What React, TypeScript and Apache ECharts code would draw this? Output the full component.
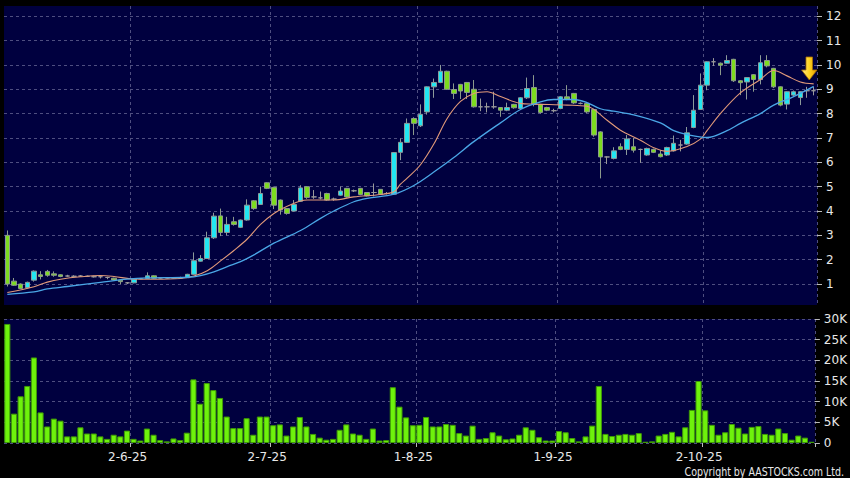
import React, { useEffect, useRef } from "react";
import * as echarts from "echarts";

// Trading days (day numbers) per month, 2025
const mayDays = [6, 7, 8, 9, 12, 13, 14, 15, 16, 19, 20, 21, 22, 23, 26, 27, 28, 29, 30];
const junDays = [2, 3, 4, 5, 6, 9, 10, 11, 12, 13, 16, 17, 18, 19, 20, 23, 24, 25, 26, 27, 30];
const julDays = [2, 3, 4, 7, 8, 9, 10, 11, 14, 15, 16, 17, 18, 21, 22, 23, 24, 25, 28, 29, 30, 31];
const augDays = [1, 4, 5, 6, 7, 8, 11, 12, 13, 14, 15, 18, 19, 20, 21, 22, 25, 26, 27, 28, 29];
const sepDays = [1, 2, 3, 4, 5, 8, 9, 10, 11, 12, 15, 16, 17, 18, 19, 22, 23, 24, 25, 26, 29, 30];
const octDays = [2, 3, 6, 8, 9, 10, 13, 14, 15, 16, 17, 20, 21, 22, 23, 24, 27];

const opens = [
  3.0, 1.12, 1.0, 0.85, 1.16, 1.38, 1.52, 1.42, 1.38, 1.33,
  1.32, 1.33, 1.32, 1.3, 1.3, 1.27, 1.24, 1.16, 1.05, 1.05,
  1.22, 1.23, 1.34, 1.25, 1.25, 1.25, 1.25, 1.26, 1.4, 1.94,
  2.05, 2.9, 3.8, 3.12, 3.56, 3.33, 3.63, 4.42, 4.27, 5.16,
  4.97, 4.45, 4.1, 4.0, 4.4, 5.0, 4.58, 4.54, 4.72, 4.49,
  4.65, 4.93, 4.83, 4.93, 4.76, 4.76, 4.89, 4.72, 4.69, 6.41,
  6.82, 7.8, 7.5, 8.07, 9.1, 9.28, 9.74, 8.99, 9.2, 9.28,
  9.0, 8.28, 8.28, 8.28, 8.25, 8.14, 8.38, 8.21, 8.65, 9.07,
  8.38, 8.25, 8.12, 8.21, 8.69, 8.83, 8.42, 8.42, 8.17, 7.25,
  6.22, 6.16, 6.64, 6.53, 6.64, 6.53, 6.3, 6.53, 6.34, 6.3,
  6.47, 6.71, 6.75, 7.43, 8.17, 9.17, 10.13, 10.07, 10.07, 10.23,
  9.35, 9.3, 9.6, 9.4, 10.18, 9.86, 9.1, 8.39, 8.76, 8.66,
  8.94, 8.94,
];
const closes = [
  1.0, 0.95, 0.82, 1.07, 1.53, 1.31, 1.36, 1.36, 1.31, 1.33,
  1.32, 1.33, 1.32, 1.3, 1.3, 1.27, 1.17, 1.1, 1.05, 1.2,
  1.22, 1.34, 1.24, 1.25, 1.25, 1.25, 1.25, 1.4, 1.96, 2.05,
  2.9, 3.79, 3.12, 3.45, 3.45, 3.63, 4.24, 4.1, 4.72, 4.93,
  4.24, 4.04, 3.9, 4.27, 4.95, 4.56, 4.58, 4.54, 4.45, 4.49,
  4.82, 4.58, 4.83, 4.68, 4.62, 4.76, 4.69, 4.72, 6.4, 6.82,
  7.6, 7.6, 7.97, 9.1, 9.28, 9.74, 9.0, 8.83, 8.93, 8.87,
  8.28, 8.28, 8.28, 8.28, 8.14, 8.25, 8.24, 8.65, 9.03, 8.38,
  8.05, 8.14, 8.12, 8.69, 8.6, 8.44, 8.42, 8.07, 7.12, 6.22,
  6.22, 6.47, 6.53, 6.96, 6.5, 6.53, 6.57, 6.41, 6.23, 6.61,
  6.78, 6.71, 7.21, 8.14, 9.17, 10.13, 10.13, 9.99, 10.18, 9.35,
  9.27, 9.48, 9.4, 10.09, 9.96, 9.1, 8.35, 8.9, 8.9, 8.9,
  8.94, 8.94,
];
const lows = [
  0.9, 0.92, 0.8, 0.82, 1.1, 1.19, 1.3, 1.3, 1.28, 1.3,
  1.29, 1.3, 1.29, 1.27, 1.23, 1.2, 1.15, 1.0, 1.0, 1.03,
  1.2, 1.22, 1.22, 1.23, 1.23, 1.23, 1.23, 1.25, 1.38, 1.92,
  2.03, 2.85, 2.97, 3.0, 3.4, 3.3, 3.6, 4.05, 4.25, 4.9,
  4.08, 3.85, 3.85, 3.98, 4.38, 4.5, 4.5, 4.48, 4.42, 4.42,
  4.62, 4.55, 4.78, 4.65, 4.6, 4.6, 4.66, 4.68, 4.66, 6.09,
  6.8, 7.12, 7.45, 7.96, 8.65, 9.25, 8.98, 8.6, 8.6, 8.6,
  8.25, 8.1, 8.05, 8.2, 7.87, 8.1, 8.2, 8.18, 8.6, 8.3,
  8.0, 8.1, 8.05, 8.18, 8.55, 8.4, 8.38, 8.02, 7.05, 5.34,
  5.93, 6.12, 6.5, 6.3, 6.4, 5.98, 6.27, 6.38, 6.2, 6.26,
  6.44, 6.45, 6.72, 7.4, 8.15, 8.96, 9.96, 9.58, 10.05, 9.3,
  8.76, 8.58, 8.9, 9.2, 9.9, 9.05, 8.3, 8.17, 8.7, 8.35,
  8.65, 8.75,
];
const highs = [
  3.2, 1.25, 1.03, 1.1, 1.56, 1.53, 1.58, 1.52, 1.4, 1.38,
  1.36, 1.37, 1.35, 1.34, 1.33, 1.3, 1.26, 1.18, 1.08, 1.22,
  1.25, 1.48, 1.36, 1.27, 1.27, 1.27, 1.3, 1.42, 2.3, 2.19,
  3.15, 3.93, 4.1, 3.76, 3.76, 3.65, 4.48, 4.45, 5.0, 5.18,
  5.0, 4.47, 4.12, 4.45, 5.06, 5.02, 4.86, 4.8, 4.75, 4.55,
  5.0, 4.95, 4.88, 4.95, 4.78, 5.13, 4.9, 4.78, 6.42, 6.98,
  7.8, 7.85, 8.38, 9.12, 9.44, 10.0, 9.76, 9.24, 9.22, 9.3,
  9.38, 8.62, 8.45, 8.9, 8.27, 8.45, 8.4, 8.68, 9.48, 9.58,
  8.4, 8.28, 8.2, 8.72, 9.17, 8.85, 8.46, 8.45, 8.2, 7.28,
  6.25, 6.62, 6.78, 7.12, 7.0, 6.56, 6.6, 6.56, 6.5, 6.64,
  7.1, 6.92, 7.45, 8.76, 9.65, 10.15, 10.28, 10.1, 10.4, 10.25,
  9.38, 9.5, 9.62, 10.4, 10.4, 9.88, 9.12, 8.92, 8.95, 8.92,
  9.1, 9.1,
];
const volumes = [
  28800, 7100, 11300, 13800, 20700, 7400, 4000, 5900, 5400, 1600,
  1600, 3800, 2300, 2300, 1600, 1000, 2000, 1600, 3000, 1000,
  600, 3500, 2000, 700, 400, 1100, 700, 2500, 15400, 9500,
  14500, 12800, 10900, 6400, 3600, 3600, 6000, 2000, 6400, 6400,
  4300, 4500, 1800, 4000, 6300, 4000, 2200, 1300, 800, 1000,
  3200, 4500, 2300, 2000, 1000, 3500, 600, 700, 13500, 8800,
  6200, 4300, 4400, 6300, 4000, 4000, 4600, 4400, 2400, 1800,
  4200, 1000, 1200, 2600, 1800, 900, 1100, 2000, 3800, 3200,
  1400, 600, 600, 2900, 2600, 1200, 400, 1600, 4200, 13800,
  2200, 1700, 2000, 2200, 2000, 2400, 300, 400, 1800, 2200,
  2700, 1600, 3800, 8000, 15000, 7900, 4400, 2000, 2600, 4600,
  3700, 2300, 3900, 4100, 2200, 2000, 3500, 2400, 800, 1800,
  1300, 300,
];

// Moving averages: [category index, value]
const maShort: Array<[number, number]> = [
  [0, 0.65], [4, 0.89], [6, 1.08], [8, 1.2], [11, 1.3], [14, 1.35], [16, 1.31], [19, 1.21],
  [22, 1.2], [26, 1.23], [28, 1.33], [30, 1.55], [32, 1.95], [34, 2.38], [36, 2.85], [38, 3.45],
  [40, 3.9], [42, 4.2], [45, 4.45], [49, 4.45], [52, 4.58], [56, 4.68], [58, 4.79], [59, 5.1],
  [60, 5.35], [62, 5.9], [64, 6.75], [66, 7.8], [68, 8.5], [70, 8.83], [72, 8.9], [74, 8.7],
  [77, 8.42], [79, 8.39], [84, 8.35], [87, 8.3], [90, 7.73], [92, 7.32], [95, 6.91], [97, 6.6],
  [99, 6.45], [102, 6.65], [104, 6.95], [105, 7.3], [107, 8.0], [110, 8.85], [113, 9.4],
  [115, 9.77], [117, 9.55], [119, 9.3], [121, 9.22],
];
const maLong: Array<[number, number]> = [
  [0, 0.58], [4, 0.68], [6, 0.8], [9, 0.9], [14, 1.07], [18, 1.2], [21, 1.25], [27, 1.28],
  [29, 1.35], [31, 1.5], [33, 1.72], [35, 1.92], [37, 2.2], [40, 2.68], [44, 3.2], [47, 3.7],
  [49, 4.0], [52, 4.38], [54, 4.52], [58, 4.69], [61, 5.05], [64, 5.6], [67, 6.2], [70, 6.85],
  [74, 7.62], [77, 8.17], [80, 8.48], [82, 8.58], [85, 8.58], [87, 8.45], [89, 8.2], [91, 8.1],
  [94, 7.95], [98, 7.62], [100, 7.3], [102, 7.14], [105, 7.02], [108, 7.3], [110, 7.6],
  [113, 8.0], [115, 8.35], [118, 8.7], [121, 9.12],
];

const priceTicks = [1, 2, 3, 4, 5, 6, 7, 8, 9, 10, 11, 12];

const NAVY = "#00003f";
const TEXT = "#e8e8e8";
const DOJI = "#9a9a9a";
const FONT = "DejaVu Sans";

export default function App() {
  const ref = useRef<HTMLDivElement>(null);

  useEffect(() => {
    if (!ref.current) return;
    const chart = echarts.init(ref.current, null, { renderer: "svg" });

    const monthDays: Array<[number, number[]]> = [
      [5, mayDays], [6, junDays], [7, julDays], [8, augDays], [9, sepDays], [10, octDays],
    ];
    const dates: string[] = [];
    const monthStart = new Set<number>();
    monthDays.forEach(([m, days], mi) => {
      days.forEach((d, di) => {
        if (di === 0 && mi > 0) monthStart.add(dates.length);
        dates.push(`${d}-${m}-25`);
      });
    });
    const isMonthStart = (i: number) => monthStart.has(i);

    const candleData = opens.map((o, i) => {
      const v = [o, closes[i], lows[i], highs[i]];
      if (o === closes[i]) {
        return {
          value: v,
          itemStyle: { color: DOJI, color0: DOJI, borderColor: DOJI, borderColor0: DOJI },
        };
      }
      return v;
    });

    const gridLine = { color: "#4e4e80", type: [3, 3] as any, width: 1 };

    chart.setOption({
      animation: false,
      backgroundColor: "#000000",
      textStyle: { fontFamily: FONT },
      grid: [
        { left: 4, right: 33, top: 6, height: 299, show: true, backgroundColor: NAVY, borderWidth: 0 },
        { left: 4, right: 33, top: 319, height: 124, show: true, backgroundColor: NAVY, borderWidth: 0 },
      ],
      xAxis: [
        {
          type: "category",
          gridIndex: 0,
          data: dates,
          boundaryGap: true,
          axisLine: { show: false },
          axisTick: { show: false },
          axisLabel: { show: false },
          splitLine: { show: true, interval: isMonthStart, lineStyle: gridLine },
        },
        {
          type: "category",
          gridIndex: 1,
          data: dates,
          boundaryGap: true,
          axisLine: { show: false },
          axisTick: { show: true, interval: isMonthStart, length: 4, lineStyle: { color: "#bbbbbb" } },
          axisLabel: {
            show: true,
            interval: isMonthStart,
            color: TEXT,
            fontSize: 12,
            fontFamily: FONT,
            margin: 8,
            padding: [0, 12, 0, 0],
          },
          splitLine: { show: true, interval: isMonthStart, lineStyle: gridLine },
        },
      ],
      yAxis: [
        {
          type: "value",
          gridIndex: 0,
          position: "right",
          min: 0.14,
          max: 12.42,
          axisLine: { show: false },
          axisTick: { show: true, length: 5, customValues: priceTicks, lineStyle: { color: "#bbbbbb" } },
          axisLabel: { customValues: priceTicks, color: TEXT, fontSize: 12, fontFamily: FONT, margin: 9 },
          splitLine: { show: true, lineStyle: gridLine },
        },
        {
          type: "value",
          gridIndex: 1,
          position: "right",
          min: 0,
          max: 30000,
          interval: 5000,
          axisLine: { show: false },
          axisTick: { show: true, length: 5, lineStyle: { color: "#bbbbbb" } },
          axisLabel: {
            color: TEXT,
            fontSize: 12,
            fontFamily: FONT,
            margin: 9,
            formatter: (v: number) => (v === 0 ? "0" : `${v / 1000}K`),
          },
          splitLine: { show: true, lineStyle: gridLine },
        },
      ],
      series: [
        {
          type: "candlestick",
          xAxisIndex: 0,
          yAxisIndex: 0,
          data: candleData,
          barWidth: 5,
          itemStyle: {
            color: "#22e6f2",
            color0: "#7ddc1f",
            borderColor: "#8c9a9a",
            borderColor0: "#8c9a8c",
            borderWidth: 1,
          },
        },
        {
          type: "line",
          xAxisIndex: 0,
          yAxisIndex: 0,
          data: maShort,
          smooth: 0.35,
          symbol: "none",
          lineStyle: { color: "#e29a7a", width: 1.1 },
        },
        {
          type: "line",
          xAxisIndex: 0,
          yAxisIndex: 0,
          data: maLong,
          smooth: 0.35,
          symbol: "none",
          lineStyle: { color: "#4aa6e6", width: 1.3 },
        },
        {
          type: "bar",
          xAxisIndex: 1,
          yAxisIndex: 1,
          data: volumes,
          barCategoryGap: "8%",
          itemStyle: { color: "#6ef20c", borderColor: "#3f9a06", borderWidth: 1 },
        },
      ],
      graphic: [
        {
          type: "polygon",
          z: 100,
          shape: {
            points: [
              [806, 57], [812.5, 57], [812.5, 70], [817, 70], [809.3, 80], [801.6, 70], [806, 70],
            ],
          },
          style: {
            fill: new echarts.graphic.LinearGradient(0, 0, 1, 0, [
              { offset: 0, color: "#ffe98a" },
              { offset: 0.5, color: "#ffd21f" },
              { offset: 1, color: "#e09a00" },
            ]),
            stroke: "#a87000",
            lineWidth: 0.8,
          },
        },
        {
          type: "text",
          x: 844,
          y: 472,
          scaleX: 0.79,
          z: 100,
          style: {
            text: "Copyright by AASTOCKS.com Ltd.",
            fill: TEXT,
            fontSize: 12,
            fontFamily: FONT,
            textAlign: "right",
            textVerticalAlign: "middle",
          },
        },
      ],
    });

    return () => chart.dispose();
  }, []);

  return (
    <div
      ref={ref}
      style={{ position: "fixed", left: 0, top: 0, width: 850, height: 478, background: "#000" }}
    />
  );
}
